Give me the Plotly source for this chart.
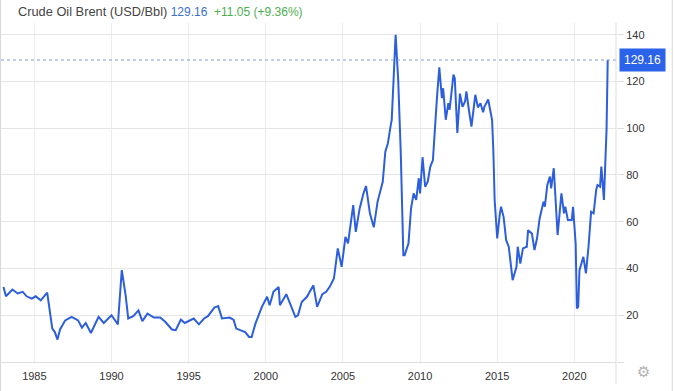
import plotly.graph_objects as go

# Monthly readings of Brent crude (USD/Bbl) taken from the reference chart
months = [
    "1983-01", "1983-03", "1983-08", "1983-12", "1984-04", "1984-07", "1984-11",
    "1985-02", "1985-06", "1985-11", "1986-03", "1986-05", "1986-07", "1986-09",
    "1987-01", "1987-06", "1987-11", "1988-02", "1988-05", "1988-09", "1989-03",
    "1989-07", "1990-01", "1990-06", "1990-09", "1990-12", "1991-02", "1991-06",
    "1991-10", "1992-01", "1992-05", "1992-10", "1993-03", "1993-07", "1993-12",
    "1994-03", "1994-07", "1994-10", "1995-05", "1995-09", "1996-01", "1996-04",
    "1996-09", "1996-12", "1997-03", "1997-09", "1997-12", "1998-02", "1998-09",
    "1998-12", "1999-02", "1999-05", "1999-10", "2000-02", "2000-04", "2000-07",
    "2000-11", "2000-12", "2001-05", "2001-09", "2001-12", "2002-02", "2002-05",
    "2002-09", "2003-02", "2003-05", "2003-09", "2003-12", "2004-03", "2004-06",
    "2004-09", "2004-12", "2005-03", "2005-05", "2005-09", "2005-11", "2006-02",
    "2006-05", "2006-07", "2006-10", "2007-01", "2007-04", "2007-08", "2007-10",
    "2007-12", "2008-02", "2008-03", "2008-06", "2008-08", "2008-10", "2008-12",
    "2009-01", "2009-04", "2009-06", "2009-08", "2009-10", "2009-12", "2010-01",
    "2010-03", "2010-05", "2010-07", "2010-09", "2010-11", "2011-02", "2011-04",
    "2011-06", "2011-07", "2011-09", "2011-11", "2011-12", "2012-03", "2012-04",
    "2012-06", "2012-08", "2012-10", "2012-12", "2013-01", "2013-03", "2013-05",
    "2013-08", "2013-10", "2013-12", "2014-02", "2014-03", "2014-06", "2014-09",
    "2014-10", "2014-11", "2015-01", "2015-03", "2015-04", "2015-06", "2015-08",
    "2015-10", "2015-11", "2016-01", "2016-04", "2016-05", "2016-07", "2016-09",
    "2016-12", "2017-01", "2017-04", "2017-06", "2017-08", "2017-10", "2018-01",
    "2018-02", "2018-04", "2018-06", "2018-07", "2018-09", "2018-12", "2019-03",
    "2019-05", "2019-06", "2019-08", "2019-11", "2019-12", "2020-01", "2020-02",
    "2020-03", "2020-04", "2020-05", "2020-08", "2020-10", "2020-12", "2021-02",
    "2021-04", "2021-06", "2021-07", "2021-09", "2021-10", "2021-12", "2022-01",
    "2022-02", "2022-03",
]
brent = [
    32.1, 28.1, 31.0, 29.3, 30.0, 28.1, 27.1,
    28.1, 26.4, 29.7, 14.3, 12.8, 9.6, 13.9,
    17.8, 19.3, 17.8, 14.7, 16.7, 12.4, 19.3,
    16.7, 20.0, 16.1, 39.3, 28.6, 18.6, 19.6,
    22.1, 17.5, 20.7, 19.0, 19.0, 17.1, 13.9,
    13.6, 18.1, 16.7, 18.6, 16.1, 18.6, 19.6,
    23.3, 23.9, 18.6, 19.0, 18.0, 14.3, 12.8,
    10.7, 10.7, 16.4, 23.6, 27.9, 24.3, 30.0,
    32.1, 24.3, 29.0, 23.6, 19.3, 20.0, 25.7,
    27.9, 32.8, 23.6, 29.0, 30.0, 32.4, 35.7,
    48.6, 40.7, 53.5, 50.7, 67.1, 55.7, 65.7,
    72.1, 75.3, 63.6, 57.6, 68.6, 77.1, 90.0,
    93.6, 100.7, 103.6, 140.0, 120.7, 89.3, 45.7,
    45.7, 50.7, 65.7, 72.1, 69.3, 78.6, 72.1,
    87.6, 75.0, 77.1, 83.6, 86.4, 112.1, 126.0,
    112.9, 117.1, 103.6, 110.7, 107.9, 122.9, 121.4,
    98.0, 114.8, 109.2, 111.4, 115.7, 107.9, 100.7,
    114.3, 108.9, 110.7, 106.8, 109.0, 112.3, 103.6,
    90.7, 69.3, 52.9, 62.9, 66.4, 62.1, 52.1,
    49.3, 45.0, 35.0, 40.7, 49.3, 42.1, 48.6,
    49.3, 56.4, 55.0, 47.9, 52.9, 61.4, 68.6,
    66.4, 75.7, 79.3, 74.3, 82.9, 54.3, 72.1,
    63.6, 66.4, 60.7, 60.7, 66.4, 59.3, 50.7,
    22.9, 23.6, 39.3, 45.0, 37.9, 49.3, 64.3,
    63.6, 73.6, 75.7, 75.0, 83.6, 69.3, 88.0,
    99.3, 129.16,
]

title_name = "Crude Oil Brent (USD/Bbl)"
last_value = "129.16"
change_text = "+11.05 (+9.36%)"
y_ticks = [0, 20, 40, 60, 80, 100, 120, 140]
y_ticktext = ["", "20", "40", "60", "80", "100", "120", "140"]

LINE = "#2d5edc"
FONT = "Liberation Sans, Arial, sans-serif"

fig = go.Figure()
fig.add_trace(go.Scatter(
    x=months, y=brent, mode="lines",
    line=dict(color=LINE, width=2), hoverinfo="skip", showlegend=False,
))

fig.update_layout(
    width=674, height=391,
    margin=dict(l=1, r=58, t=23, b=29),
    paper_bgcolor="white", plot_bgcolor="white",
    font=dict(family=FONT, size=11, color="#333333"),
    xaxis=dict(
        type="date", range=["1982-11-03", "2022-09-13"],
        tick0="1985-01-01", dtick="M60", tickformat="%Y",
        showgrid=True, gridcolor="#ececec", gridwidth=1,
        showline=True, linecolor="#dddddd", linewidth=1,
        ticks="outside", ticklen=4, tickcolor="rgba(0,0,0,0)",
        zeroline=False, fixedrange=True,
        tickfont=dict(size=11, color="#333333"),
    ),
    yaxis=dict(
        side="right", range=[0, 145],
        tickvals=y_ticks, ticktext=y_ticktext,
        showgrid=True, gridcolor="#e6e6e6", gridwidth=1,
        ticks="outside", ticklen=7, tickcolor="#dddddd",
        zeroline=False, showline=False, fixedrange=True,
        tickfont=dict(size=11, color="#333333"),
    ),
    shapes=[
        dict(type="line", xref="paper", yref="y", x0=0, x1=1,
             y0=float(last_value), y1=float(last_value),
             line=dict(color="#7f9dd6", width=1, dash="dot")),
        dict(type="line", xref="paper", yref="paper", x0=1, x1=1,
             y0=-0.065, y1=1, line=dict(color="#dddddd", width=1)),
        dict(type="line", xref="paper", yref="paper", x0=-0.0008, x1=-0.0008,
             y0=-0.09, y1=1.07, line=dict(color="#d8d8d8", width=1)),
        dict(type="line", xref="paper", yref="paper", x0=1.0915, x1=1.0915,
             y0=-0.09, y1=1.07, line=dict(color="#d8d8d8", width=1)),
    ],
    annotations=[
        dict(xref="paper", yref="paper", x=0.0244, y=1.034,
             xanchor="left", yanchor="middle", showarrow=False,
             text=(f"<span style='color:#444444;font-size:12.8px'>{title_name}</span> "
                   f"<span style='color:#3b6fd0'>{last_value}</span>  "
                   f"<span style='color:#4caf50'>{change_text}</span>"),
             font=dict(family=FONT, size=12)),
        dict(xref="paper", yref="y", x=1, y=float(last_value),
             xanchor="left", yanchor="middle", xshift=3, showarrow=False,
             text=last_value, bgcolor="#2b62ea", borderpad=4,
             font=dict(family=FONT, size=12, color="white")),
        dict(xref="paper", yref="paper", x=1.0455, y=-0.03,
             xanchor="center", yanchor="middle", showarrow=False,
             text="⚙", font=dict(family="DejaVu Sans", size=15, color="#b0b0b0")),
    ],
)

fig.write_html(
    "out.html",
    config={"displayModeBar": False},
    post_script="document.body.style.margin='0';document.body.style.overflow='hidden';",
)
